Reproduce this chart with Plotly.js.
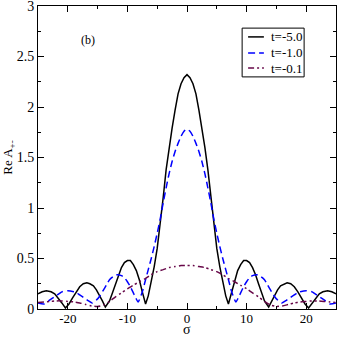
<!DOCTYPE html>
<html>
<head>
<meta charset="utf-8">
<script src="https://cdn.plot.ly/plotly-3.0.1.min.js"></script>
<style>html,body{margin:0;padding:0;background:#fff;}#chart{width:338px;height:338px;}</style>
</head>
<body>
<div id="chart"></div>
<script>
// t = -5.0 (black solid)
const sigmaA = [-25,-24.3,-23.6,-22.8,-22.2,-21.6,-21,-20.4,-19.8,-19.2,-18.6,-18,-17.4,-16.8,-16.3,-15.7,-15.2,-14.7,-14.2,-13.7,-13,-12.5,-12,-11.5,-11,-10.5,-10,-9.5,-9,-8.5,-8,-7.5,-6.95,-6.5,-6,-5.5,-5,-4.5,-4,-3.5,-3,-2.5,-2,-1.5,-1,-0.5,
  0,0.5,1,1.5,2,2.5,3,3.5,4,4.5,5,5.5,6,6.5,6.95,7.5,8,8.5,9,9.5,10,10.5,11,11.5,12,12.5,13,13.7,14.2,14.7,15.2,15.7,16.3,16.8,17.4,18,18.6,19.2,19.8,20.4,21,21.6,22.2,22.8,23.6,24.3,25];
const reA = [0.15,0.17,0.18,0.17,0.15,0.11,0.06,0.01,0.05,0.11,0.17,0.22,0.25,0.26,0.25,0.23,0.19,0.14,0.08,0.02,0.08,0.16,0.25,0.34,0.41,0.46,0.48,0.48,0.44,0.38,0.29,0.17,0.05,0.13,0.26,0.42,0.60,0.83,1.10,1.38,1.60,1.79,1.97,2.13,2.23,2.29,
  2.32,2.29,2.23,2.13,1.97,1.79,1.60,1.38,1.10,0.83,0.60,0.42,0.26,0.13,0.05,0.17,0.29,0.38,0.44,0.48,0.48,0.46,0.41,0.34,0.25,0.16,0.08,0.02,0.08,0.14,0.19,0.23,0.25,0.26,0.25,0.22,0.17,0.11,0.05,0.01,0.06,0.11,0.15,0.17,0.18,0.17,0.15];

// t = -1.0 (blue dashed)
const sigmaB = [-25,-24,-23,-22.5,-22,-21.5,-21,-20,-19,-18.5,-18,-17.5,-17,-16.5,-15.9,-15,-14.5,-14,-13.5,-13,-12.4,-11.7,-11,-10.5,-10,-9.5,-9,-8.6,-8.2,-7.5,-7,-6.5,-6,-5.5,-5,-4.5,-4,-3.5,-3,-2.5,-2,-1.5,-1,-0.5,
  0,0.5,1,1.5,2,2.5,3,3.5,4,4.5,5,5.5,6,6.5,7,7.5,8.2,8.6,9,9.5,10,10.5,11,11.7,12.4,13,13.5,14,14.5,15,15.9,16.5,17,17.5,18,18.5,19,20,21,21.5,22,22.5,23,24,25];
const reB = [0.06,0.05,0.09,0.11,0.13,0.15,0.17,0.18,0.17,0.16,0.14,0.12,0.10,0.08,0.06,0.10,0.14,0.19,0.24,0.29,0.32,0.34,0.33,0.31,0.27,0.22,0.16,0.11,0.07,0.17,0.28,0.39,0.50,0.62,0.75,0.89,1.05,1.20,1.34,1.46,1.56,1.64,1.71,1.76,
  1.78,1.76,1.71,1.64,1.56,1.46,1.34,1.20,1.05,0.89,0.75,0.62,0.50,0.39,0.28,0.17,0.07,0.11,0.16,0.22,0.27,0.31,0.33,0.34,0.32,0.29,0.24,0.19,0.14,0.10,0.06,0.08,0.10,0.12,0.14,0.16,0.17,0.18,0.17,0.15,0.13,0.11,0.09,0.05,0.06];

// t = -0.1 (maroon dash-dot)
const sigmaC = [-25,-24,-23,-22,-21,-20,-19,-18,-17,-16,-15,-14,-13,-12,-11,-10,-9,-8,-7,-6,-5,-4,-3,-2,-1,
  0,1,2,3,4,5,6,7,8,9,10,11,12,13,14,15,16,17,18,19,20,21,22,23,24,25];
const reC = [0.065,0.07,0.075,0.08,0.08,0.075,0.07,0.06,0.045,0.03,0.025,0.04,0.075,0.12,0.16,0.20,0.235,0.27,0.30,0.34,0.37,0.39,0.41,0.42,0.43,
  0.43,0.43,0.42,0.41,0.39,0.37,0.34,0.30,0.27,0.235,0.20,0.16,0.12,0.075,0.04,0.025,0.03,0.045,0.06,0.07,0.075,0.08,0.08,0.075,0.07,0.065];

const seriesNames = ['t=-5.0','t=-1.0','t=-0.1'];
const xTickVals = [-20,-10,0,10,20];
const xTickText = ['-20','-10','0','10','20'];
const yTickVals = [0,0.5,1,1.5,2,2.5,3];
const yTickText = ['0','0.5','1','1.5','2','2.5','3'];
const xTitle = 'σ';
const yTitle = 'Re A<sub>+-</sub>';

const colors = ['#000000','#0000ff','#670748'];
const dashes = ['solid','7px,4px','6px,3px,2px,3px,2px,3px'];

const traces = [
  {x: sigmaA, y: reA, mode:'lines', name: seriesNames[0], line:{color:colors[0], width:1.5, dash:dashes[0]}},
  {x: sigmaB, y: reB, mode:'lines', name: seriesNames[1], line:{color:colors[1], width:1.5, dash:dashes[1], shape:'spline', smoothing:0.6}},
  {x: sigmaC, y: reC, mode:'lines', name: seriesNames[2], line:{color:colors[2], width:1.5, dash:dashes[2], shape:'spline', smoothing:0.6}}
];

const serif = 'Liberation Serif';

// custom legend (paper coords)
const lx0 = 0.705, lx1 = 0.758, ltx = 0.775;
const ly = [0.898, 0.845, 0.795];
const shapes = [
  {type:'rect', xref:'paper', yref:'paper', x0:0.685, x1:0.893, y0:0.766, y1:0.927, line:{color:'#000', width:1}, fillcolor:'#fff'}
];
const annotations = [
  {xref:'paper', yref:'paper', x:0.138, y:0.917, text:'(b)', showarrow:false, font:{family:serif, size:12, color:'#000'}},
  {xref:'paper', yref:'paper', x:0.5, y:-0.0957, xanchor:'center', yanchor:'bottom', borderpad:0, text:xTitle, showarrow:false, font:{family:serif, size:14, color:'#000'}}
];
for (let i=0;i<3;i++){
  shapes.push({type:'line', xref:'paper', yref:'paper', x0:lx0, x1:lx1, y0:ly[i], y1:ly[i], line:{color:colors[i], width:1.5, dash:dashes[i]}});
  annotations.push({xref:'paper', yref:'paper', x:ltx, y:ly[i], xanchor:'left', yanchor:'middle', text:seriesNames[i], showarrow:false, font:{family:serif, size:13, color:'#000'}});
}

const axisCommon = {
  showgrid:false, zeroline:false, showline:true, linecolor:'#000', linewidth:1,
  mirror:'allticks', ticks:'inside', ticklen:6, tickcolor:'#000', tickwidth:1,
  ticklabeloverflow:'allow',
  tickfont:{family:serif, size:14, color:'#000'}
};

const layout = {
  width:338, height:338,
  margin:{l:38, r:2, t:6, b:29},
  paper_bgcolor:'#fff', plot_bgcolor:'#fff',
  showlegend:false,
  xaxis: Object.assign({}, axisCommon, {
    range:[-25,25], tickvals:xTickVals, ticktext:xTickText, ticklabelstandoff:-3,
    tickfont:{family:serif, size:13, color:'#000'},
    minor:{dtick:5, tick0:0, ticks:'inside', ticklen:3, tickcolor:'#000'}
  }),
  yaxis: Object.assign({}, axisCommon, {
    range:[0,3], tickvals:yTickVals, ticktext:yTickText,
    minor:{dtick:0.25, tick0:0, ticks:'inside', ticklen:3, tickcolor:'#000'},
    title:{text:yTitle, font:{family:serif, size:13, color:'#000'}, standoff:6}
  }),
  shapes: shapes,
  annotations: annotations
};

Plotly.newPlot('chart', traces, layout, {staticPlot:true, displayModeBar:false});
</script>
</body>
</html>
